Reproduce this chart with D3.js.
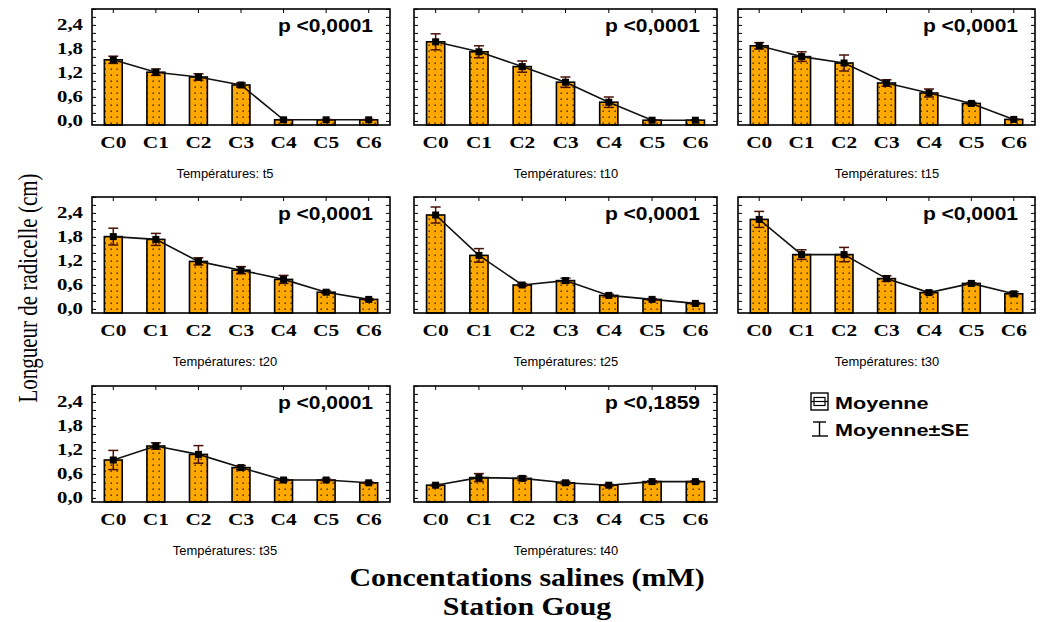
<!DOCTYPE html>
<html><head><meta charset="utf-8">
<script src="https://cdn.jsdelivr.net/npm/d3@7/dist/d3.min.js"></script>
<style>body{margin:0;background:#fff}</style>
</head><body>
<svg id="chart" width="1040" height="622"></svg>
<script>
const categories = ["C0","C1","C2","C3","C4","C5","C6"];
const temperatures = ["t5","t10","t15","t20","t25","t30","t35","t40"];
const pLabels = ["p <0,0001","p <0,0001","p <0,0001","p <0,0001","p <0,0001","p <0,0001","p <0,0001","p <0,1859"];
const mean_t5  = [1.54, 1.23, 1.11, 0.91, 0.04, 0.04, 0.04];
const se_t5    = [0.09, 0.08, 0.08, 0.05, 0.01, 0.01, 0.01];
const mean_t10 = [1.99, 1.74, 1.37, 0.98, 0.48, 0.03, 0.03];
const se_t10   = [0.20, 0.15, 0.14, 0.13, 0.13, 0.01, 0.01];
const mean_t15 = [1.89, 1.62, 1.46, 0.96, 0.71, 0.45, 0.05];
const se_t15   = [0.08, 0.12, 0.20, 0.08, 0.10, 0.03, 0.01];
const mean_t20 = [1.82, 1.75, 1.20, 0.98, 0.75, 0.43, 0.25];
const se_t20   = [0.21, 0.15, 0.09, 0.09, 0.10, 0.03, 0.02];
const mean_t25 = [2.36, 1.35, 0.61, 0.72, 0.35, 0.25, 0.15];
const se_t25   = [0.20, 0.17, 0.03, 0.06, 0.03, 0.02, 0.02];
const mean_t30 = [2.25, 1.37, 1.37, 0.77, 0.42, 0.65, 0.39];
const se_t30   = [0.20, 0.12, 0.18, 0.07, 0.04, 0.02, 0.05];
const mean_t35 = [0.96, 1.31, 1.10, 0.77, 0.46, 0.46, 0.39];
const se_t35   = [0.24, 0.08, 0.22, 0.05, 0.02, 0.02, 0.02];
const mean_t40 = [0.33, 0.52, 0.50, 0.39, 0.33, 0.42, 0.42];
const se_t40   = [0.02, 0.10, 0.05, 0.04, 0.02, 0.02, 0.02];
const yTickValues = [0, 0.6, 1.2, 1.8, 2.4];
const yTickLabels = ["0,0","0,6","1,2","1,8","2,4"];
const yTitle = "Longueur de radicelle (cm)";
const xTitle1 = "Concentations salines (mM)";
const xTitle2 = "Station Goug";
const legendLabels = ["Moyenne", "Moyenne\u00B1SE"];

const means = [mean_t5, mean_t10, mean_t15, mean_t20, mean_t25, mean_t30, mean_t35, mean_t40];
const ses = [se_t5, se_t10, se_t15, se_t20, se_t25, se_t30, se_t35, se_t40];

const svg = d3.select("#chart");
const defs = svg.append("defs");
const pat = defs.append("pattern").attr("id","dots").attr("patternUnits","userSpaceOnUse")
  .attr("width",6).attr("height",6);
pat.append("rect").attr("width",6).attr("height",6).attr("fill","#FFA800");
pat.append("rect").attr("x",2.5).attr("y",2.5).attr("width",1.4).attr("height",1.4).attr("fill","#222");

const colLeft = [92, 414, 738];
const colWidth = [298, 303, 297];
const colCenter = [225, 566, 887];
const rowTop = [9, 197, 386];
const H = 116;
const SX = 1.22;

function stext(g, x, y, str, opts) {
  const gg = g.append("g").attr("transform", `translate(${x},${y}) scale(${opts.sx||1},${opts.sy||1})`);
  return gg.append("text").text(str)
    .attr("font-family", opts.family).attr("font-size", opts.size)
    .attr("font-weight", opts.weight || "normal")
    .attr("text-anchor", opts.anchor || "start")
    .attr("fill", opts.fill || "#000");
}

temperatures.forEach((t, i) => {
  const r = Math.floor(i / 3), c = i % 3;
  const L = colLeft[c], W = colWidth[c], T = rowTop[r];
  const g = svg.append("g");
  const x = d3.scaleBand().domain(categories).range([L, L + W]).paddingInner(0.58).paddingOuter(0.29);
  const y = d3.scaleLinear().domain([-0.09, 2.81]).range([T + H, T]);
  const base = y.range()[0];

  const minor = d3.range(0, 2.81, 0.2);
  g.selectAll(".tl").data(minor).join("line")
    .attr("x1", L).attr("x2", L + 4).attr("y1", d => y(d)).attr("y2", d => y(d))
    .attr("stroke", "#000").attr("stroke-width", 1);
  g.selectAll(".tr").data(minor).join("line")
    .attr("x1", L + W - 4).attr("x2", L + W).attr("y1", d => y(d)).attr("y2", d => y(d))
    .attr("stroke", "#000").attr("stroke-width", 1);
  g.selectAll(".tt").data(categories).join("line")
    .attr("x1", d => x(d) + x.bandwidth()/2).attr("x2", d => x(d) + x.bandwidth()/2)
    .attr("y1", T).attr("y2", T + 4).attr("stroke", "#000");

  const m = means[i], s = ses[i];
  g.selectAll(".bar").data(categories).join("rect")
    .attr("x", d => x(d)).attr("width", x.bandwidth())
    .attr("y", (d, k) => y(m[k])).attr("height", (d, k) => base - y(m[k]))
    .attr("fill", "url(#dots)").attr("stroke", "#000").attr("stroke-width", 1.6);

  const line = d3.line().x((d, k) => x(categories[k]) + x.bandwidth()/2).y(d => y(d));
  g.append("path").datum(m).attr("d", line).attr("fill", "none").attr("stroke", "#111").attr("stroke-width", 1.6);

  const eb = g.selectAll(".eb").data(categories).join("g");
  eb.append("line")
    .attr("x1", d => x(d) + x.bandwidth()/2).attr("x2", d => x(d) + x.bandwidth()/2)
    .attr("y1", (d, k) => y(m[k] + s[k])).attr("y2", (d, k) => y(m[k] - s[k]))
    .attr("stroke", "#4a1208").attr("stroke-width", 1.5);
  [1, -1].forEach(sg => {
    eb.append("line")
      .attr("x1", d => x(d) + x.bandwidth()/2 - 5).attr("x2", d => x(d) + x.bandwidth()/2 + 5)
      .attr("y1", (d, k) => y(m[k] + sg * s[k])).attr("y2", (d, k) => y(m[k] + sg * s[k]))
      .attr("stroke", "#4a1208").attr("stroke-width", 1.5);
  });
  g.selectAll(".mk").data(categories).join("rect")
    .attr("x", d => x(d) + x.bandwidth()/2 - 3.5).attr("width", 7)
    .attr("y", (d, k) => y(m[k]) - 3.5).attr("height", 7).attr("fill", "#000");

  g.append("rect").attr("x", L).attr("y", T).attr("width", W).attr("height", H)
    .attr("fill", "none").attr("stroke", "#000").attr("stroke-width", 1.6);

  if (c === 0) {
    yTickValues.forEach((v, k) => {
      stext(g, 83, y(v) + 5, yTickLabels[k], {family: "Liberation Serif", size: 16, weight: "bold", anchor: "end", sx: 1.3});
    });
  }
  categories.forEach(cat => {
    stext(g, x(cat) + x.bandwidth()/2, T + H + 23, cat, {family: "Liberation Serif", size: 17.5, weight: "bold", anchor: "middle", sx: SX});
  });
  stext(g, colCenter[c], T + H + 53, "Températures: " + t, {family: "Liberation Sans", size: 12, anchor: "middle", sx: 1.08});
  stext(g, L + W - 17, T + 23, pLabels[i], {family: "Liberation Sans", size: 17.5, weight: "bold", anchor: "end", sx: 1.2});
});

// y title
svg.append("text").attr("transform", "translate(37,288) rotate(-90) scale(1,1.3)")
  .attr("text-anchor", "middle").attr("font-family", "Liberation Serif").attr("font-size", 21)
  .text(yTitle);

// x titles
stext(svg, 527, 586, xTitle1, {family: "Liberation Serif", size: 26, weight: "bold", anchor: "middle", sx: 1.15});
stext(svg, 527, 615, xTitle2, {family: "Liberation Serif", size: 26, weight: "bold", anchor: "middle", sx: 1.15});

// legend
const lg = svg.append("g");
lg.append("rect").attr("x", 811).attr("y", 393).attr("width", 17).attr("height", 17)
  .attr("fill", "none").attr("stroke", "#000").attr("stroke-width", 1.4);
lg.append("rect").attr("x", 814).attr("y", 397.5).attr("width", 11).attr("height", 8)
  .attr("fill", "none").attr("stroke", "#000").attr("stroke-width", 1.2);
lg.append("line").attr("x1", 811).attr("x2", 828).attr("y1", 401.5).attr("y2", 401.5)
  .attr("stroke", "#000").attr("stroke-width", 1.2);
lg.append("line").attr("x1", 819.5).attr("x2", 819.5).attr("y1", 422).attr("y2", 436).attr("stroke", "#000").attr("stroke-width", 1.4);
lg.append("line").attr("x1", 813).attr("x2", 826).attr("y1", 422).attr("y2", 422).attr("stroke", "#000").attr("stroke-width", 1.4);
lg.append("line").attr("x1", 812).attr("x2", 828).attr("y1", 436).attr("y2", 436).attr("stroke", "#000").attr("stroke-width", 1.4);
stext(lg, 835, 409, legendLabels[0], {family: "Liberation Sans", size: 17, weight: "bold", sx: 1.27});
stext(lg, 835, 436, legendLabels[1], {family: "Liberation Sans", size: 17, weight: "bold", sx: 1.27});
</script>
</body></html>
